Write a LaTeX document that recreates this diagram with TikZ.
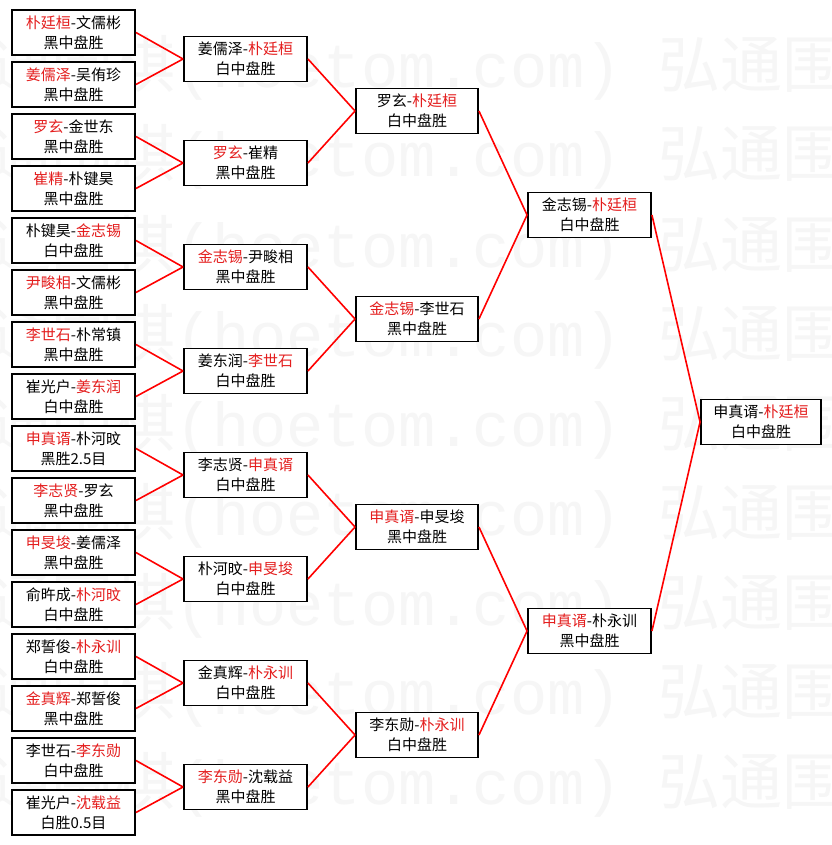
\documentclass[tikz,border=0pt]{standalone}
\usepackage{fontspec}
\newfontfamily\cjk{Noto Sans CJK SC}
\newfontfamily\wmono{Liberation Mono}
\definecolor{winred}{RGB}{228,30,30}
\definecolor{wmgray}{RGB}{246,246,246}
\newcommand{\W}[1]{\textcolor{winred}{#1}}
\begin{document}
\begin{tikzpicture}[x=1pt,y=-1pt,
  game/.style={draw=black, line width=1.9pt, fill=white, minimum width=123pt,
    minimum height=45pt, inner sep=0pt, align=center,
    font=\cjk\fontsize{15}{20}\selectfont},
  link/.style={draw=red, line width=1.6pt},
  wm/.style={anchor=base west, inner sep=0pt, text=wmgray,
    font=\cjk\fontsize{62}{62}\selectfont}]
\useasboundingbox (0,0) rectangle (831,845);
\fill[white] (0,0) rectangle (831,845);
% watermark
\begin{scope}
\clip (0,0) rectangle (831,845);
\foreach \yy [count=\k] in {65,154,244,333,423,512,602,691,781}{
  \node[wm] (wm\k) at (-73,\yy+23) {弘通围棋{\wmono(hoetom.com) }弘通围棋{\wmono(hoetom.com)}};
}
\end{scope}
% round 1
\node[game] (a1)  at (73.5,32.5)  {\W{朴廷桓}-文儒彬\\黑中盘胜};
\node[game] (a2)  at (73.5,84.5)  {\W{姜儒泽}-吴侑珍\\黑中盘胜};
\node[game] (a3)  at (73.5,136.5) {\W{罗玄}-金世东\\黑中盘胜};
\node[game] (a4)  at (73.5,188.5) {\W{崔精}-朴键昊\\黑中盘胜};
\node[game] (a5)  at (73.5,240.5) {朴键昊-\W{金志锡}\\白中盘胜};
\node[game] (a6)  at (73.5,292.5) {\W{尹畯相}-文儒彬\\黑中盘胜};
\node[game] (a7)  at (73.5,344.5) {\W{李世石}-朴常镇\\黑中盘胜};
\node[game] (a8)  at (73.5,396.5) {崔光户-\W{姜东润}\\白中盘胜};
\node[game] (a9)  at (73.5,448.5) {\W{申真谞}-朴河旼\\黑胜2.5目};
\node[game] (a10) at (73.5,500.5) {\W{李志贤}-罗玄\\黑中盘胜};
\node[game] (a11) at (73.5,552.5) {\W{申旻埈}-姜儒泽\\黑中盘胜};
\node[game] (a12) at (73.5,604.5) {俞旿成-\W{朴河旼}\\白中盘胜};
\node[game] (a13) at (73.5,656.5) {郑誓俊-\W{朴永训}\\白中盘胜};
\node[game] (a14) at (73.5,708.5) {\W{金真辉}-郑誓俊\\黑中盘胜};
\node[game] (a15) at (73.5,760.5) {李世石-\W{李东勋}\\白中盘胜};
\node[game] (a16) at (73.5,812.5) {崔光户-\W{沈载益}\\白胜0.5目};
% round 2
\node[game] (b1) at (245.5,59)  {姜儒泽-\W{朴廷桓}\\白中盘胜};
\node[game] (b2) at (245.5,163) {\W{罗玄}-崔精\\黑中盘胜};
\node[game] (b3) at (245.5,267) {\W{金志锡}-尹畯相\\黑中盘胜};
\node[game] (b4) at (245.5,371) {姜东润-\W{李世石}\\白中盘胜};
\node[game] (b5) at (245.5,475) {李志贤-\W{申真谞}\\白中盘胜};
\node[game] (b6) at (245.5,579) {朴河旼-\W{申旻埈}\\白中盘胜};
\node[game] (b7) at (245.5,683) {金真辉-\W{朴永训}\\白中盘胜};
\node[game] (b8) at (245.5,787) {\W{李东勋}-沈载益\\黑中盘胜};
% round 3
\node[game, minimum width=122pt] (c1) at (417,111) {罗玄-\W{朴廷桓}\\白中盘胜};
\node[game, minimum width=122pt] (c2) at (417,319) {\W{金志锡}-李世石\\黑中盘胜};
\node[game, minimum width=122pt] (c3) at (417,527) {\W{申真谞}-申旻埈\\黑中盘胜};
\node[game, minimum width=122pt] (c4) at (417,735) {李东勋-\W{朴永训}\\白中盘胜};
% round 4
\node[game] (d1) at (589.5,215) {金志锡-\W{朴廷桓}\\白中盘胜};
\node[game] (d2) at (589.5,631) {\W{申真谞}-朴永训\\黑中盘胜};
% final
\node[game, minimum width=120pt] (f) at (761,422) {申真谞-\W{朴廷桓}\\白中盘胜};
% connectors
\foreach \i/\j in {1/1,2/1,3/2,4/2,5/3,6/3,7/4,8/4,9/5,10/5,11/6,12/6,13/7,14/7,15/8,16/8}
  \draw[link] (a\i.east) -- (b\j.west);
\foreach \i/\j in {1/1,2/1,3/2,4/2,5/3,6/3,7/4,8/4}
  \draw[link] (b\i.east) -- (c\j.west);
\foreach \i/\j in {1/1,2/1,3/2,4/2}
  \draw[link] (c\i.east) -- (d\j.west);
\draw[link] (d1.east) -- (f.west);
\draw[link] (d2.east) -- (f.west);
\end{tikzpicture}
\end{document}
